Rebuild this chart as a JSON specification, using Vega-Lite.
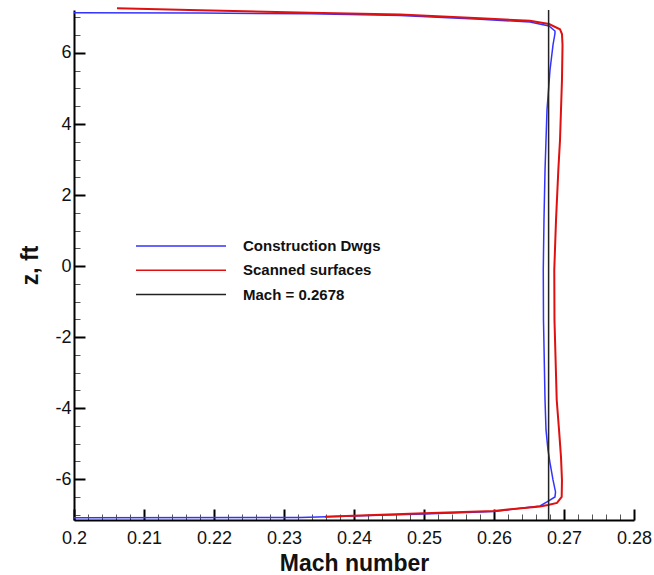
{
  "$schema": "https://vega.github.io/schema/vega-lite/v6.json",
  "width": 560,
  "height": 510,
  "autosize": "none",
  "padding": {"left": 74, "top": 10, "right": 20, "bottom": 55},
  "background": "white",
  "config": {
    "view": {"stroke": null},
    "font": "Liberation Sans"
  },
  "datasets": {
    "blue": [
      {"mach": 0.2, "z": 7.134, "o": 1},
      {"mach": 0.218, "z": 7.123, "o": 2},
      {"mach": 0.23371, "z": 7.106, "o": 3},
      {"mach": 0.24657, "z": 7.055, "o": 4},
      {"mach": 0.258, "z": 6.948, "o": 5},
      {"mach": 0.26514, "z": 6.872, "o": 6},
      {"mach": 0.26786, "z": 6.76, "o": 7},
      {"mach": 0.26871, "z": 6.619, "o": 8},
      {"mach": 0.26871, "z": 6.548, "o": 9},
      {"mach": 0.26843, "z": 6.225, "o": 10},
      {"mach": 0.268, "z": 5.521, "o": 11},
      {"mach": 0.26757, "z": 4.395, "o": 12},
      {"mach": 0.26743, "z": 3.55, "o": 13},
      {"mach": 0.26729, "z": 2.706, "o": 14},
      {"mach": 0.26714, "z": 1.298, "o": 15},
      {"mach": 0.26704, "z": -0.11, "o": 16},
      {"mach": 0.26707, "z": -1.518, "o": 17},
      {"mach": 0.26729, "z": -3.77, "o": 18},
      {"mach": 0.26743, "z": -4.614, "o": 19},
      {"mach": 0.26771, "z": -5.177, "o": 20},
      {"mach": 0.268, "z": -5.543, "o": 21},
      {"mach": 0.26843, "z": -6.022, "o": 22},
      {"mach": 0.26879, "z": -6.36, "o": 23},
      {"mach": 0.26871, "z": -6.501, "o": 24},
      {"mach": 0.26757, "z": -6.641, "o": 25},
      {"mach": 0.26657, "z": -6.754, "o": 26},
      {"mach": 0.26, "z": -6.909, "o": 27},
      {"mach": 0.25, "z": -6.979, "o": 28},
      {"mach": 0.23986, "z": -7.036, "o": 29},
      {"mach": 0.23229, "z": -7.078, "o": 30},
      {"mach": 0.2, "z": -7.086, "o": 31}
    ],
    "red": [
      {"mach": 0.20614, "z": 7.258, "o": 1},
      {"mach": 0.218, "z": 7.202, "o": 2},
      {"mach": 0.23371, "z": 7.134, "o": 3},
      {"mach": 0.24657, "z": 7.083, "o": 4},
      {"mach": 0.258, "z": 6.976, "o": 5},
      {"mach": 0.26514, "z": 6.909, "o": 6},
      {"mach": 0.26786, "z": 6.816, "o": 7},
      {"mach": 0.26943, "z": 6.667, "o": 8},
      {"mach": 0.26971, "z": 6.534, "o": 9},
      {"mach": 0.26979, "z": 6.225, "o": 10},
      {"mach": 0.26971, "z": 5.239, "o": 11},
      {"mach": 0.26957, "z": 4.395, "o": 12},
      {"mach": 0.26943, "z": 3.55, "o": 13},
      {"mach": 0.26919, "z": 2.706, "o": 14},
      {"mach": 0.26886, "z": 1.298, "o": 15},
      {"mach": 0.26861, "z": -0.11, "o": 16},
      {"mach": 0.26864, "z": -1.518, "o": 17},
      {"mach": 0.26896, "z": -3.77, "o": 18},
      {"mach": 0.26929, "z": -4.614, "o": 19},
      {"mach": 0.26957, "z": -5.374, "o": 20},
      {"mach": 0.26971, "z": -6.022, "o": 21},
      {"mach": 0.26967, "z": -6.501, "o": 22},
      {"mach": 0.269, "z": -6.669, "o": 23},
      {"mach": 0.26771, "z": -6.726, "o": 24},
      {"mach": 0.26657, "z": -6.768, "o": 25},
      {"mach": 0.26, "z": -6.895, "o": 26},
      {"mach": 0.25, "z": -6.96, "o": 27},
      {"mach": 0.23986, "z": -7.027, "o": 28},
      {"mach": 0.23586, "z": -7.055, "o": 29}
    ],
    "black": [
      {"mach": 0.2678, "z": -7.15, "o": 1},
      {"mach": 0.2678, "z": 7.21, "o": 2}
    ]
  },
  "encoding": {
    "x": {
      "field": "mach",
      "type": "quantitative",
      "scale": {"domain": [0.2, 0.28], "nice": false, "zero": false},
      "axis": {
        "title": "Mach number",
        "titleFont": "Liberation Sans",
        "titleFontSize": 23,
        "titleFontWeight": "bold",
        "titleColor": "#111",
        "titlePadding": 0,
        "values": [0.2,0.202,0.204,0.206,0.208,0.21,0.212,0.214,0.216,0.218,0.22,0.222,0.224,0.226,0.228,0.23,0.232,0.234,0.236,0.238,0.24,0.242,0.244,0.246,0.248,0.25,0.252,0.254,0.256,0.258,0.26,0.262,0.264,0.266,0.268,0.27,0.272,0.274,0.276,0.278,0.28],
        "labelExpr": "round(datum.value*1000) % 10 === 0 ? '' + datum.value : ''",
        "labelOverlap": false,
        "labelFlush": false,
        "labelFont": "Liberation Sans",
        "labelFontSize": 18,
        "labelColor": "#111",
        "labelPadding": 20,
        "grid": false,
        "domainColor": "#000",
        "domainWidth": 2,
        "tickColor": {"condition": {"test": "round(datum.value*1000) % 10 === 0", "value": "#000"}, "value": "#555"},
        "tickWidth": {"condition": {"test": "round(datum.value*1000) % 10 === 0", "value": 2}, "value": 1},
        "tickSize": {"condition": {"test": "round(datum.value*1000) % 10 === 0", "value": -11}, "value": -6}
      }
    },
    "y": {
      "field": "z",
      "type": "quantitative",
      "scale": {"domain": [-7.15, 7.21], "nice": false, "zero": false},
      "axis": {
        "title": "z, ft",
        "titleFont": "Liberation Sans",
        "titleFontSize": 23,
        "titleFontWeight": "bold",
        "titleColor": "#111",
        "titlePadding": 12,
        "values": [-7,-6.5,-6,-5.5,-5,-4.5,-4,-3.5,-3,-2.5,-2,-1.5,-1,-0.5,0,0.5,1,1.5,2,2.5,3,3.5,4,4.5,5,5.5,6,6.5,7],
        "labelExpr": "datum.value % 2 === 0 ? '' + datum.value : ''",
        "labelOverlap": false,
        "labelFlush": false,
        "labelFont": "Liberation Sans",
        "labelFontSize": 18,
        "labelColor": "#111",
        "labelPadding": 14,
        "grid": false,
        "domainColor": "#000",
        "domainWidth": 2,
        "tickColor": {"condition": {"test": "datum.value % 2 === 0", "value": "#000"}, "value": "#555"},
        "tickWidth": {"condition": {"test": "datum.value % 2 === 0", "value": 2}, "value": 1},
        "tickSize": {"condition": {"test": "datum.value % 2 === 0", "value": -11}, "value": -6}
      }
    },
    "order": {"field": "o", "type": "quantitative"}
  },
  "layer": [
    {
      "data": {"name": "blue"},
      "transform": [{"calculate": "'Construction Dwgs'", "as": "series"}],
      "mark": {"type": "line", "strokeWidth": 1.5, "clip": false},
      "encoding": {
        "color": {
          "field": "series",
          "type": "nominal",
          "scale": {"domain": ["Construction Dwgs", "Scanned surfaces", "Mach = 0.2678"], "range": ["#3333ff", "#e01010", "#222222"]},
          "legend": {
            "title": null,
            "orient": "none",
            "legendX": 61,
            "legendY": 227,
            "symbolType": "stroke",
            "symbolSize": 8100,
            "symbolStrokeWidth": 1.5,
            "clipHeight": 18,
            "labelFont": "Liberation Sans",
            "labelFontSize": 15,
            "labelFontWeight": "bold",
            "labelColor": "#111",
            "labelOffset": 16,
            "rowPadding": 6.3,
            "padding": 0
          }
        }
      }
    },
    {
      "data": {"name": "red"},
      "transform": [{"calculate": "'Scanned surfaces'", "as": "series"}],
      "mark": {"type": "line", "strokeWidth": 2, "clip": false},
      "encoding": {"color": {"field": "series", "type": "nominal"}}
    },
    {
      "data": {"name": "black"},
      "transform": [{"calculate": "'Mach = 0.2678'", "as": "series"}],
      "mark": {"type": "line", "strokeWidth": 1.5, "clip": false},
      "encoding": {"color": {"field": "series", "type": "nominal"}}
    }
  ]
}
